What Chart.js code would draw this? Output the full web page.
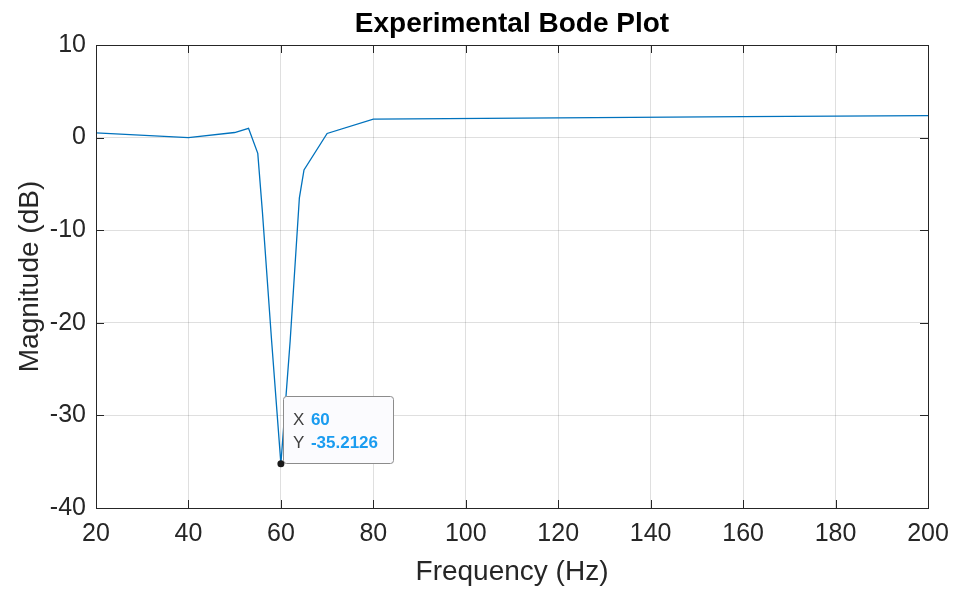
<!DOCTYPE html>
<html>
<head>
<meta charset="utf-8">
<script src="https://cdn.jsdelivr.net/npm/chart.js@4.4.1/dist/chart.umd.min.js"></script>
<style>
  html, body { margin: 0; padding: 0; background: #fff; }
  #wrap { width: 955px; height: 590px; }
</style>
</head>
<body>
<div id="wrap"><canvas id="bode-chart" width="955" height="590"></canvas></div>
<script>
// Experimental Bode Plot - magnitude vs frequency

const freqHz = [20, 40, 50, 53, 55, 56, 58, 60, 62, 64, 65, 70, 80, 120, 160, 200];
const magDb = [0.5, 0.0, 0.55, 1.0, -1.7, -8.0, -22.0, -35.2126, -22.0, -6.5, -3.5, 0.45, 2.0, 2.13, 2.27, 2.37];
const xTicks = [20, 40, 60, 80, 100, 120, 140, 160, 180, 200];
const yTicks = [-40, -30, -20, -10, 0, 10];
const tipX = 60;
const tipY = -35.2126;

const axisColor = '#262626';
const fontName = '"Liberation Sans", Arial, Helvetica, sans-serif';

// box, inner tick marks, title and the data tip, drawn like MATLAB
const matlabAxes = {
    id: 'matlabAxes',
    afterDraw(chart) {
        const ctx = chart.ctx;
        const a = chart.chartArea;
        const xs = chart.scales.x;
        const ys = chart.scales.y;
        ctx.save();
        ctx.strokeStyle = axisColor;
        ctx.lineWidth = 1;
        ctx.beginPath();
        xTicks.forEach(v => {
            const px = Math.round(xs.getPixelForValue(v)) + 0.5;
            ctx.moveTo(px, a.bottom); ctx.lineTo(px, a.bottom - 8);
            ctx.moveTo(px, a.top); ctx.lineTo(px, a.top + 8);
        });
        yTicks.forEach(v => {
            const py = Math.round(ys.getPixelForValue(v)) + 0.5;
            ctx.moveTo(a.left, py); ctx.lineTo(a.left + 8, py);
            ctx.moveTo(a.right, py); ctx.lineTo(a.right - 8, py);
        });
        ctx.stroke();
        ctx.strokeRect(Math.round(a.left) + 0.5, Math.round(a.top) + 0.5,
            Math.round(a.right - a.left), Math.round(a.bottom - a.top));

        // title
        ctx.fillStyle = '#000';
        ctx.font = 'bold 28px ' + fontName;
        ctx.textAlign = 'center';
        ctx.textBaseline = 'alphabetic';
        ctx.fillText('Experimental Bode Plot', (a.left + a.right) / 2, 32);

        // data tip
        const px = xs.getPixelForValue(tipX);
        const py = ys.getPixelForValue(tipY);
        const bx = px + 2, by = py - 68, bw = 110, bh = 67;
        ctx.fillStyle = '#fbfbfe';
        ctx.strokeStyle = '#8c8c8c';
        ctx.beginPath();
        ctx.roundRect(Math.round(bx) + 0.5, Math.round(by) + 0.5, bw, bh, 3);
        ctx.fill();
        ctx.stroke();
        ctx.textAlign = 'left';
        ctx.font = '17px ' + fontName;
        ctx.fillStyle = '#404040';
        ctx.fillText('X', bx + 10, by + 29);
        ctx.fillText('Y', bx + 10, by + 52);
        ctx.font = 'bold 17px ' + fontName;
        ctx.fillStyle = '#1a9cf0';
        ctx.fillText(String(tipX), bx + 28, by + 29);
        ctx.fillText(String(tipY), bx + 28, by + 52);
        ctx.beginPath();
        ctx.arc(px, py, 3.5, 0, Math.PI * 2);
        ctx.fillStyle = '#1a1a1a';
        ctx.fill();
        ctx.restore();
    }
};

const bodeCtx = document.getElementById('bode-chart').getContext('2d');
const bodeChart = new Chart(bodeCtx, {
    type: 'scatter',
    data: {
        datasets: [{
            label: 'Magnitude',
            data: freqHz.map((f, i) => ({ x: f, y: magDb[i] })),
            showLine: true,
            borderColor: '#0072BD',
            borderWidth: 1.3,
            pointRadius: 0,
            tension: 0
        }]
    },
    options: {
        responsive: false,
        animation: false,
        layout: { padding: { top: 45, right: 27, left: 0, bottom: 0 } },
        plugins: {
            legend: { display: false },
            tooltip: { enabled: false },
            title: { display: false }
        },
        scales: {
            x: {
                type: 'linear',
                min: 20,
                max: 200,
                afterFit(scale) {
                    scale.height = 82;
                    scale.paddingLeft = 0;
                    scale.paddingRight = 0;
                },
                afterBuildTicks(scale) { scale.ticks = xTicks.map(v => ({ value: v })); },
                grid: { color: 'rgba(38,38,38,0.15)', drawTicks: false },
                border: { display: false },
                ticks: { color: axisColor, font: { family: fontName, size: 25 }, padding: 11 },
                title: {
                    display: true,
                    text: 'Frequency (Hz)',
                    color: axisColor,
                    font: { family: fontName, size: 28 },
                    padding: { top: 0, bottom: 1 }
                }
            },
            y: {
                min: -40,
                max: 10,
                afterFit(scale) {
                    scale.width = 96;
                    scale.paddingTop = 0;
                    scale.paddingBottom = 0;
                },
                afterBuildTicks(scale) { scale.ticks = yTicks.map(v => ({ value: v })); },
                grid: { color: 'rgba(38,38,38,0.15)', drawTicks: false },
                border: { display: false },
                ticks: { color: axisColor, font: { family: fontName, size: 25 }, padding: 10 },
                title: {
                    display: true,
                    text: 'Magnitude (dB)',
                    color: axisColor,
                    font: { family: fontName, size: 28 },
                    padding: { top: 13, bottom: 0 }
                }
            }
        }
    },
    plugins: [matlabAxes]
});
</script>
</body>
</html>
